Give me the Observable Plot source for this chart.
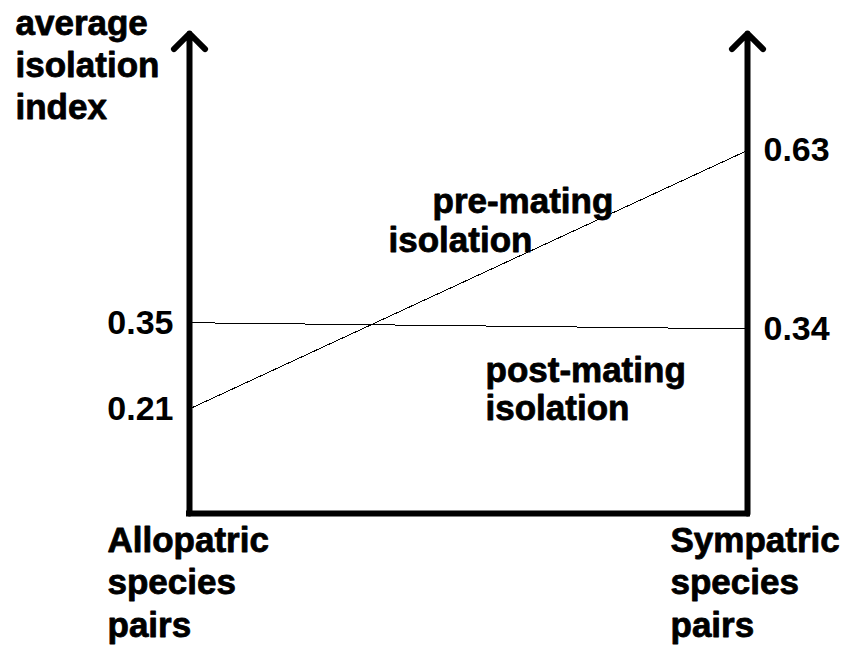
<!DOCTYPE html>
<html><head><meta charset="utf-8">
<script src="https://cdn.jsdelivr.net/npm/d3@7"></script>
<script src="https://cdn.jsdelivr.net/npm/@observablehq/plot@0.6"></script>
<style>body{margin:0;background:#fff}</style>
</head><body><div id="chart"></div>
<script>
const categories = ["Allopatric", "Sympatric"];
const categoryLabels = ["Allopatric\nspecies\npairs", "Sympatric\nspecies\npairs"];
const seriesNames = ["pre-mating", "post-mating"];
const preMating = [0.21, 0.63];
const postMating = [0.35, 0.34];
const leftTicks = [0.21, 0.35];
const rightTicks = [0.34, 0.63];
const yAxisLabel = "average\nisolation\nindex";
const yDomain = [0.04, 0.82];

const rows = [
  ...categories.map((c, i) => ({category: c, series: seriesNames[0], value: preMating[i]})),
  ...categories.map((c, i) => ({category: c, series: seriesNames[1], value: postMating[i]}))
];

const font = "'Liberation Sans', Arial, Helvetica, sans-serif";
const T = {fontSize: 35, fontWeight: "bold", fill: "black", stroke: "black", strokeWidth: 0.8, textAnchor: "start", lineAnchor: "bottom"};

const chart = Plot.plot({
  width: 844, height: 648,
  marginLeft: 189, marginRight: 97, marginTop: 33, marginBottom: 135,
  x: {type: "point", domain: categories, padding: 0, axis: null},
  y: {domain: yDomain, axis: null},
  style: {fontFamily: font, background: "white"},
  marks: [
    Plot.line(rows, {x: "category", y: "value", z: "series", stroke: "black", strokeWidth: 1, shapeRendering: "crispEdges"}),
    Plot.ruleY([yDomain[0]], {x1: () => categories[0], x2: () => categories[1], stroke: "black", strokeWidth: 6, strokeLinecap: "square"}),
    Plot.arrow(categories, {x1: d => d, x2: d => d, y1: () => yDomain[0], y2: () => yDomain[1], stroke: "black", strokeWidth: 6, headAngle: 90, headLength: 5.5}),
    Plot.axisY(leftTicks, {anchor: "left", tickSize: 0, tickPadding: 16, tickFormat: d3.format(".2f"), fontSize: 34, fontWeight: "bold", stroke: "black", strokeWidth: 0.8, label: null}),
    Plot.axisY(rightTicks, {anchor: "right", tickSize: 0, tickPadding: 16, tickFormat: d3.format(".2f"), fontSize: 34, fontWeight: "bold", stroke: "black", strokeWidth: 0.8, label: null}),
    Plot.text([yAxisLabel], {...T, frameAnchor: "top-left", text: d => d, lineHeight: 1.186, dx: -174, dy: 85}),
    Plot.text([categoryLabels[0]], {...T, x: () => categories[0], y: () => yDomain[0], text: d => d, lineHeight: 1.214, dx: -82, dy: 123}),
    Plot.text([categoryLabels[1]], {...T, x: () => categories[1], y: () => yDomain[0], text: d => d, lineHeight: 1.214, dx: -77, dy: 123}),
    Plot.text(["pre-mating"], {...T, x: () => categories[1], y: () => preMating[1], text: d => d, dx: -315, dy: 63}),
    Plot.text(["isolation"], {...T, x: () => categories[1], y: () => preMating[1], text: d => d, dx: -359, dy: 102}),
    Plot.text(["post-mating\nisolation"], {...T, x: () => categories[1], y: () => postMating[1], text: d => d, lineHeight: 1.086, dx: -262, dy: 91.6})
  ]
});
document.getElementById("chart").appendChild(chart);
</script>
</body></html>
